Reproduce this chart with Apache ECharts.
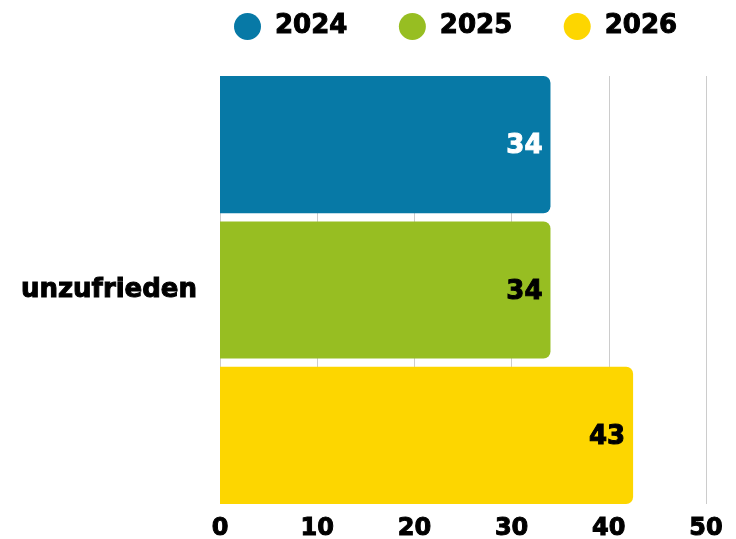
<!DOCTYPE html>
<html><head><meta charset="utf-8">
<script src="https://cdn.jsdelivr.net/npm/echarts@6/dist/echarts.min.js"></script>
<style>html,body{margin:0;padding:0;background:#fff}#c{width:736px;height:539px}</style>
</head><body><div id="c"></div>
<script>
const categories = ['unzufrieden'];
const seriesNames = ['2024', '2025', '2026'];
const values2024 = [34];
const values2025 = [34];
const values2026 = [42.5];
const xTicks = [0, 10, 20, 30, 40, 50];
const colors = ['#0779a6', '#97be22', '#fdd600'];
const labelColors = ['#ffffff', '#000000', '#000000'];
const FONT = '"DejaVu Sans", "Liberation Sans", Arial, sans-serif';
const bold = (size, color) => ({ fontFamily: FONT, fontWeight: 'bold', fontSize: size, color: color, textBorderColor: color, textBorderWidth: 1 });
const chart = echarts.init(document.getElementById('c'));
const data = [values2024, values2025, values2026];
chart.setOption({
  animation: false,
  legend: {
    left: 229, top: 8, itemWidth: 27, itemHeight: 27, itemGap: 51, icon: 'circle',
    textStyle: Object.assign(bold(26, '#000'), { padding: [0, 0, 0, 9] }),
    data: seriesNames
  },
  grid: { left: 220, right: 30, top: 76, bottom: 35, containLabel: false, outerBoundsMode: 'none' },
  xAxis: {
    type: 'value', min: xTicks[0], max: xTicks[xTicks.length - 1], interval: 10,
    axisLine: { show: false }, axisTick: { show: false },
    splitLine: { lineStyle: { color: '#cccccc', width: 1 } },
    axisLabel: Object.assign(bold(24, '#000'), { margin: 13 })
  },
  yAxis: {
    type: 'category', data: categories, inverse: true,
    axisLine: { show: false }, axisTick: { show: false },
    axisLabel: Object.assign(bold(26, '#000'), { margin: 23 })
  },
  series: seriesNames.map((n, i) => ({
    name: n, type: 'bar', data: data[i],
    barCategoryGap: '0%', barGap: '6%',
    itemStyle: { color: colors[i], borderRadius: [0, 7, 7, 0] },
    label: Object.assign(bold(26, labelColors[i]), {
      show: true, position: 'insideRight', distance: 8, offset: [0, 2],
      formatter: p => String(Math.round(p.value))
    })
  }))
});
</script></body></html>
